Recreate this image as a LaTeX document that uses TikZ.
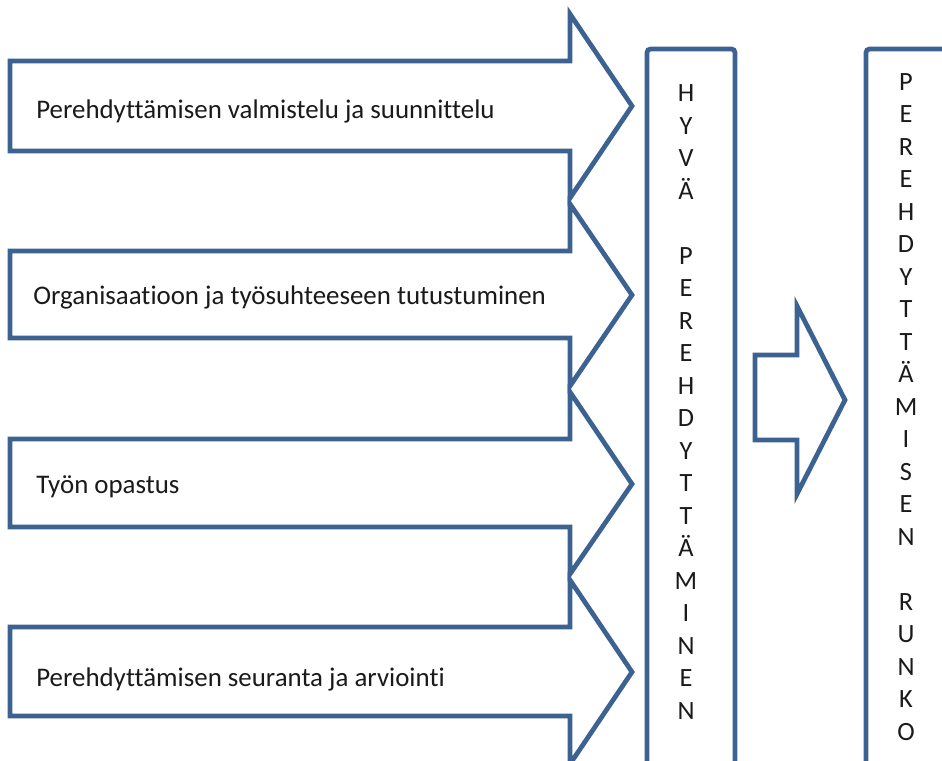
\documentclass[tikz,border=0pt]{standalone}
\usepackage{fontspec}
\setmainfont{Carlito}[Ligatures={NoCommon}]
\usepackage{xcolor}
\usetikzlibrary{positioning}
\definecolor{pkBlue}{HTML}{3B6291}
\definecolor{pkText}{HTML}{1A1A1A}
\definecolor{pkWhite}{HTML}{FFFFFF}
\tikzset{
  pk-arrow/.style={draw=pkBlue, line width=2.7pt, fill=pkWhite,
    line join=miter},
  pk-frame/.style={draw=pkBlue, line width=2.7pt, rounded corners=2pt},
  pk-label/.style={anchor=west, text=pkText, inner sep=0pt,
    font=\fontsize{15.3}{17}\selectfont},
  pk-column/.style={text=pkText, align=center, inner sep=0pt,
    font=\fontsize{15}{18.5}\selectfont}
}

\begin{document}
\begin{tikzpicture}[x=0.02cm, y=-0.02cm]
\useasboundingbox (0,0) rectangle (942,760);

% --- Vaiheet ---
\draw[pk-arrow] (10,61) -- (570,61) -- (570,14) -- (632,106) -- (570,198)
  -- (570,151) -- (10,151) -- cycle;
\node[pk-label] (valmistelu) at (36,111)
  {Perehdyttämisen valmistelu ja suunnittelu};

\draw[pk-arrow] (10,251) -- (570,251) -- (570,204) -- (632,295) -- (570,386)
  -- (570,338) -- (10,338) -- cycle;
\node[pk-label] (tutustuminen) at (33,297)
  {Organisaatioon ja työsuhteeseen tutustuminen};

\draw[pk-arrow] (10,439) -- (570,439) -- (570,392) -- (632,484) -- (570,574)
  -- (570,527) -- (10,527) -- cycle;
\node[pk-label] (opastus) at (36,487) {Työn opastus};

\draw[pk-arrow] (10,627) -- (570,627) -- (570,580) -- (632,672) -- (570,764)
  -- (570,716) -- (10,716) -- cycle;
\node[pk-label] (seuranta) at (36,679)
  {Perehdyttämisen seuranta ja arviointi};

% --- Kehykset ---
\draw[pk-frame] (647,790) -- (647,49) -- (735,49) -- (735,790);
\node[pk-column] (hyva) at (686,402)
  {H\\Y\\V\\Ä\\ \\P\\E\\R\\E\\H\\D\\Y\\T\\T\\Ä\\M\\I\\N\\E\\N};

\draw[pk-frame] (866,790) -- (866,49) -- (960,49);
\node[pk-column] (runko) at (906,407)
  {P\\E\\R\\E\\H\\D\\Y\\T\\T\\Ä\\M\\I\\S\\E\\N\\ \\R\\U\\N\\K\\O};

% --- Nuoli ---
\draw[pk-arrow] (755,355) -- (797,355) -- (797,306) -- (845,400) -- (797,494)
  -- (797,440) -- (755,440) -- cycle;
\end{tikzpicture}
\end{document}
